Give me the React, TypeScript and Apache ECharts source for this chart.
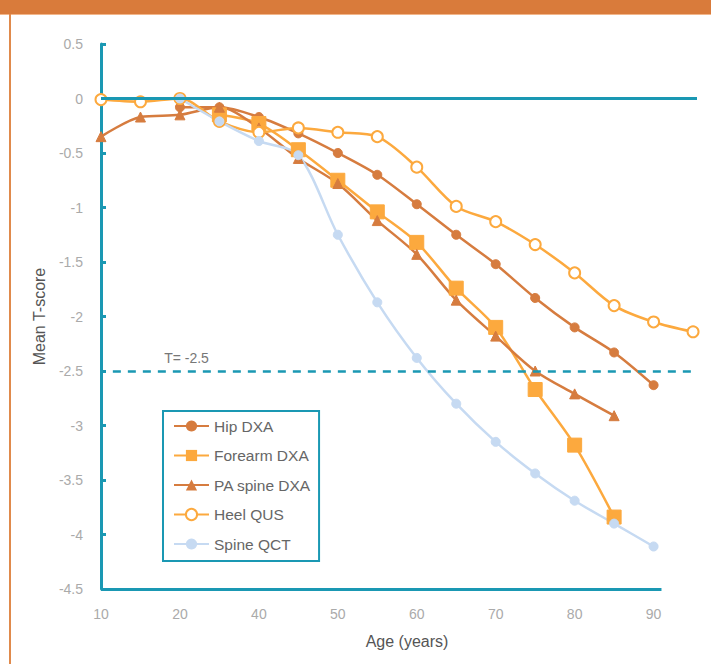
import React, { useEffect, useRef } from "react";
import * as echarts from "echarts";

// x positions are evenly spaced sample indices; tick labels as printed in the source
const xTickLabels = ["10", "20", "40", "50", "60", "70", "80", "90"];
const yTickStep = 0.5;

const hipDXA = [null, null, -0.08, -0.08, -0.17, -0.32, -0.5, -0.7, -0.97, -1.25, -1.52, -1.83, -2.1, -2.33, -2.63];
const forearmDXA = [null, null, null, -0.15, -0.23, -0.47, -0.75, -1.04, -1.32, -1.74, -2.1, -2.67, -3.18, -3.84];
const paSpineDXA = [-0.35, -0.17, -0.15, -0.08, -0.27, -0.55, -0.78, -1.12, -1.43, -1.85, -2.18, -2.5, -2.71, -2.91];
const heelQUS = [-0.01, -0.03, 0.0, -0.21, -0.31, -0.27, -0.31, -0.35, -0.63, -0.99, -1.13, -1.34, -1.6, -1.9, -2.05, -2.14];
const spineQCT = [null, null, 0.0, -0.21, -0.39, -0.52, -1.25, -1.87, -2.38, -2.8, -3.15, -3.44, -3.69, -3.9, -4.11];

const thresholdValue = -2.5;
const thresholdLabel = "T= -2.5";

const TEAL = "#1A98B3";
const DARK_ORANGE = "#D67C3F";
const LIGHT_ORANGE = "#FCA93E";
const LIGHT_BLUE = "#C6DAF2";
const FONT = "Liberation Sans";

const toPairs = (arr: (number | null)[]) =>
  arr.map((v, i) => (v === null ? null : [i, v])).filter((p) => p !== null);

export default function App() {
  const ref = useRef<HTMLDivElement>(null);

  useEffect(() => {
    if (!ref.current) return;
    const chart = echarts.init(ref.current, undefined, { renderer: "svg" });

    const lineSeries = (
      name: string,
      data: (number | null)[],
      color: string,
      symbol: string,
      symbolSize: number,
      extra: any = {}
    ) => ({
      name,
      type: "line",
      data: toPairs(data),
      smooth: 0.3,
      clip: false,
      symbol,
      symbolSize,
      showAllSymbol: true,
      lineStyle: { color, width: 2.5 },
      itemStyle: { color, borderColor: color },
      ...extra,
    });

    const option: any = {
      animation: false,
      textStyle: { fontFamily: FONT },
      grid: { left: 101, right: 14, top: 44, bottom: 75, containLabel: false },
      legend: {
        orient: "vertical",
        left: 163,
        top: 411,
        width: 155,
        padding: [7, 8, 9, 10],
        borderColor: TEAL,
        borderWidth: 2,
        itemWidth: 35,
        itemHeight: 14,
        itemGap: 13.5,
        textStyle: { color: "#666", fontSize: 15.5, fontFamily: FONT },
        data: ["Hip DXA", "Forearm DXA", "PA spine DXA", "Heel QUS", "Spine QCT"],
      },
      xAxis: {
        type: "value",
        min: 0,
        max: 15.1,
        interval: 2,
        name: "Age (years)",
        nameLocation: "middle",
        nameGap: 44,
        nameTextStyle: { color: "#555", fontSize: 16, fontFamily: FONT, padding: [0, 0, 0, 16] },
        axisLine: { show: false },
        axisTick: { show: false },
        splitLine: { show: false },
        axisLabel: {
          color: "#aaa",
          fontSize: 14,
          margin: 18,
          fontFamily: FONT,
          formatter: (v: number) => {
            if (Math.abs(v - Math.round(v)) > 1e-6 || Math.round(v) % 2 !== 0) return "";
            return xTickLabels[Math.round(v) / 2] ?? "";
          },
        },
      },
      yAxis: {
        type: "value",
        min: -4.5,
        max: 0.5,
        interval: yTickStep,
        name: "Mean T-score",
        nameLocation: "middle",
        nameRotate: 90,
        nameGap: 52,
        nameTextStyle: { color: "#555", fontSize: 16, fontFamily: FONT },
        axisLine: { show: true, lineStyle: { color: TEAL, width: 3 } },
        axisTick: { show: true, inside: true, length: 5, lineStyle: { color: TEAL, width: 3 } },
        splitLine: { show: false },
        axisLabel: { color: "#aaa", fontSize: 14, margin: 18, fontFamily: FONT },
      },
      series: [
        lineSeries("Hip DXA", hipDXA, DARK_ORANGE, "circle", 9, {
          markLine: {
            silent: true,
            symbol: "none",
            animation: false,
            label: { show: false },
            data: [
              { yAxis: 0, lineStyle: { color: TEAL, width: 3, type: "solid" } },
              [
                { coord: [0.3, thresholdValue], lineStyle: { color: TEAL, width: 2.5, type: [8, 7] } },
                { coord: [15.1, thresholdValue] },
              ],
              [
                { coord: [0, -4.5], lineStyle: { color: TEAL, width: 3, type: "solid" } },
                { coord: [14.2, -4.5] },
              ],
            ],
          },
        }),
        lineSeries("Forearm DXA", forearmDXA, LIGHT_ORANGE, "rect", 14),
        lineSeries("PA spine DXA", paSpineDXA, DARK_ORANGE, "triangle", 10),
        lineSeries("Heel QUS", heelQUS, LIGHT_ORANGE, "circle", 11, {
          itemStyle: { color: "#fff", borderColor: LIGHT_ORANGE, borderWidth: 2 },
        }),
        lineSeries("Spine QCT", spineQCT, LIGHT_BLUE, "circle", 9),
      ],
      graphic: [
        { type: "rect", shape: { x: 0, y: 0, width: 711, height: 14 }, style: { fill: "#D97B3B" }, silent: true },
        { type: "rect", shape: { x: 0, y: 14, width: 711, height: 1 }, style: { fill: "#F2B68A" }, silent: true },
        { type: "rect", shape: { x: 9, y: 14, width: 2, height: 650 }, style: { fill: "#E08A4C" }, silent: true },
      ],
    };

    chart.setOption(option);

    const p = chart.convertToPixel({ gridIndex: 0 }, [1.6, thresholdValue]) as number[];
    chart.setOption({
      graphic: [
        ...option.graphic,
        {
          type: "text",
          x: p[0],
          y: p[1] - 6,
          silent: true,
          style: {
            text: thresholdLabel,
            fill: "#777",
            fontSize: 14,
            fontFamily: FONT,
            textVerticalAlign: "bottom",
            verticalAlign: "bottom",
          },
        },
      ],
    });

    return () => chart.dispose();
  }, []);

  return (
    <div
      ref={ref}
      style={{ position: "absolute", left: 0, top: 0, width: 711, height: 664, background: "#fff" }}
    />
  );
}
